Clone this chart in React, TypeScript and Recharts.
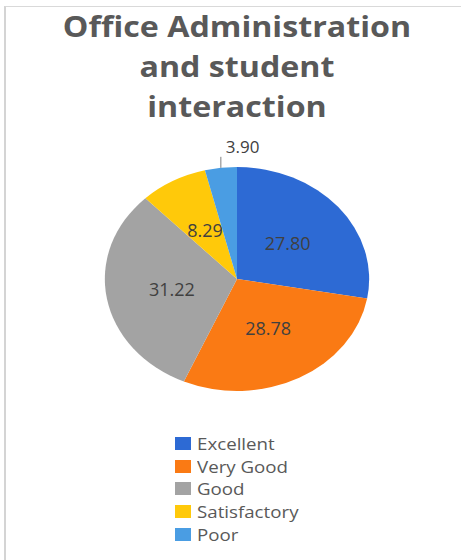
import React from "react";
import { PieChart, Pie, Cell, Legend } from "recharts";

const categories = ["Excellent", "Very Good", "Good", "Satisfactory", "Poor"];
const values = [27.8, 28.78, 31.22, 8.29, 3.9];
const colors = ["#2D6AD4", "#FA7A14", "#A3A3A3", "#FFC90A", "#4A9DE3"];

const data = categories.map((name, i) => ({ name, value: values[i] }));

const CX = 237;
const CY = 279;
const R = 112;
const SX = 1.18; // pie is drawn as a horizontally stretched ellipse
const RAD = Math.PI / 180;

const renderLabel = (props: any) => {
  const { cx, cy, midAngle, outerRadius, value, index } = props;
  const cos = Math.cos(-midAngle * RAD);
  const sin = Math.sin(-midAngle * RAD);
  const text = value.toFixed(2);
  if (index === 4) {
    const ex = cx + outerRadius * SX * cos;
    const ey = cy + outerRadius * sin;
    return (
      <g>
        <line x1={ex} y1={ey} x2={ex} y2={ey - 11} stroke="#7f7f7f" strokeWidth={1} />
        <text x={ex + 5} y={ey - 15} fill="#404040" fontSize={17} fontFamily="Open Sans">
          {text}
        </text>
      </g>
    );
  }
  const x = cx + outerRadius * 0.5 * SX * cos;
  const y = cy + outerRadius * 0.5 * sin;
  return (
    <text
      x={x}
      y={y}
      fill="#404040"
      fontSize={18}
      fontFamily="Open Sans"
      textAnchor="middle"
      dominantBaseline="central"
    >
      {text}
    </text>
  );
};

const renderLegend = () => (
  <div style={{ fontFamily: "Open Sans", fontSize: 17, color: "#595959" }}>
    {categories.map((c, i) => (
      <div key={c} style={{ display: "flex", alignItems: "center", height: 22.75 }}>
        <span
          style={{
            display: "inline-block",
            width: 16,
            height: 13,
            background: colors[i],
            marginRight: 6,
          }}
        />
        <span style={{ display: "inline-block", transform: "scaleX(1.1)", transformOrigin: "0 50%" }}>
          {c}
        </span>
      </div>
    ))}
  </div>
);

export default function App() {
  return (
    <div
      style={{
        position: "fixed",
        left: 0,
        top: 0,
        width: 461,
        height: 560,
        background: "#fff",
        overflow: "hidden",
      }}
    >
      <style>{`.recharts-pie-sector path { transform-origin: ${CX}px ${CY}px; transform: scaleX(${SX}); }`}</style>
      <div
        style={{
          position: "absolute",
          left: 4,
          top: 6,
          width: 470,
          height: 600,
          borderTop: "1px solid #d9d9d9",
          borderLeft: "2px solid #d4d4d4",
        }}
      />
      <div
        style={{
          position: "absolute",
          left: 0,
          top: 6,
          width: 474,
          textAlign: "center",
          fontFamily: "Open Sans",
          fontWeight: 700,
          fontSize: 28,
          lineHeight: "40px",
          color: "#595959",
          transform: "scaleX(1.15)",
        }}
      >
        Office Administration
        <br />
        and student
        <br />
        interaction
      </div>
      <div style={{ position: "absolute", left: 0, top: 0 }}>
        <PieChart width={461} height={560} margin={{ top: 0, right: 0, bottom: 0, left: 0 }}>
          <Pie
            data={data}
            dataKey="value"
            nameKey="name"
            cx={CX}
            cy={CY}
            outerRadius={R}
            startAngle={90}
            endAngle={-270}
            stroke="none"
            label={renderLabel}
            labelLine={false}
            isAnimationActive={false}
          >
            {data.map((d, i) => (
              <Cell key={d.name} fill={colors[i]} />
            ))}
          </Pie>
          <Legend
            content={renderLegend}
            layout="vertical"
            wrapperStyle={{ left: 175, top: 432, width: 200 }}
          />
        </PieChart>
      </div>
    </div>
  );
}
